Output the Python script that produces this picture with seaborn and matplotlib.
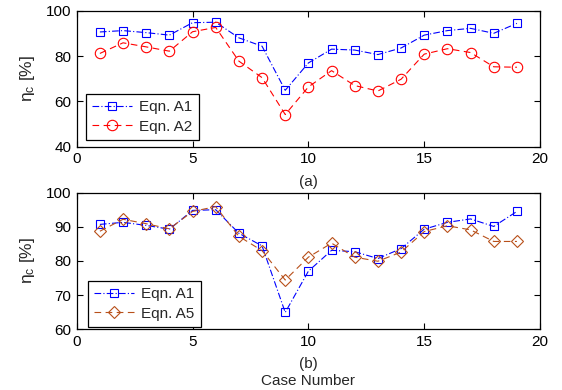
import matplotlib
matplotlib.use("Agg")
import matplotlib.pyplot as plt
import seaborn as sns
import pandas as pd
import numpy as np

cases = list(range(1, 20))
eqn_a1 = [90.7, 91.3, 90.4, 89.3, 94.8, 95.0, 88.1, 84.4, 64.9, 77.0,
          83.1, 82.7, 80.7, 83.6, 89.3, 91.3, 92.3, 90.1, 94.5]
eqn_a2 = [81.2, 85.9, 84.1, 82.2, 90.8, 92.7, 77.8, 70.5, 54.2, 66.4,
          73.6, 67.0, 64.6, 69.8, 80.9, 83.3, 81.6, 75.3, 75.1]
eqn_a5 = [88.7, 92.2, 90.9, 89.4, 94.5, 95.9, 87.2, 83.0, 74.4, 81.1,
          85.2, 81.1, 79.9, 82.6, 88.6, 90.3, 89.1, 85.7, 85.7]

sns.set_style("ticks")
plt.rcParams['font.family'] = ['Liberation Sans', 'DejaVu Sans']
plt.rcParams['font.size'] = 10
plt.rcParams['mathtext.fontset'] = 'custom'
plt.rcParams['mathtext.rm'] = 'Liberation Sans'
plt.rcParams['mathtext.it'] = 'Liberation Sans'

fig = plt.figure(figsize=(5.62, 3.9), dpi=100)
ax1 = fig.add_axes([0.1365, 0.624, 0.8245, 0.348])
ax2 = fig.add_axes([0.1365, 0.156, 0.8245, 0.350])

df_top = pd.DataFrame({'case': cases * 2,
                       'eta': eqn_a1 + eqn_a2,
                       'series': ['Eqn. A1'] * 19 + ['Eqn. A2'] * 19})
df_bot = pd.DataFrame({'case': cases * 2,
                       'eta': eqn_a1 + eqn_a5,
                       'series': ['Eqn. A1'] * 19 + ['Eqn. A5'] * 19})

blue = '#0000ff'
red = '#ff0000'
brown = '#b8501a'

def draw(ax, df, names, colors, styles, markers, msizes):
    for name, c, ls, mk, ms in zip(names, colors, styles, markers, msizes):
        sub = df[df['series'] == name]
        sns.lineplot(data=sub, x='case', y='eta', ax=ax, color=c, linestyle=ls,
                     marker=mk, markersize=ms, markerfacecolor='none',
                     markeredgecolor=c, markeredgewidth=0.8, linewidth=0.8,
                     label=name, estimator=None)

draw(ax1, df_top, ['Eqn. A1', 'Eqn. A2'], [blue, red],
     [(0, (6, 2, 1, 2)), (0, (6, 4))], ['s', 'o'], [5.5, 7.5])
draw(ax2, df_bot, ['Eqn. A1', 'Eqn. A5'], [blue, brown],
     [(0, (6, 2, 1, 2)), (0, (6, 4))], ['s', 'D'], [5.5, 6])

for ax, ylim, yt, anc in [(ax1, (40, 100), [40, 60, 80, 100], (0.02, 0.05)),
                          (ax2, (60, 100), [60, 70, 80, 90, 100], (0.024, 0.017))]:
    ax.set_xlim(0, 20)
    ax.set_ylim(*ylim)
    ax.set_xticks([0, 5, 10, 15, 20])
    ax.set_yticks(yt)
    ax.tick_params(direction='in', top=True, right=True, length=4, width=0.8,
                   labelsize=11, colors='black', pad=4)
    for s in ax.spines.values():
        s.set_linewidth(0.9)
        s.set_color('black')
    ax.set_ylabel(r'$\eta_c$ [%]', fontsize=12.5, labelpad=6)
    ax.legend(loc='lower left', frameon=True, fancybox=False, edgecolor='black',
              fontsize=11, handlelength=2.6, borderpad=0.4, labelspacing=0.35,
              framealpha=1, bbox_to_anchor=anc, borderaxespad=0,
              handletextpad=0.5)
    ax.legend_.get_frame().set_linewidth(0.9)

ax1.set_xlabel('(a)', fontsize=11, labelpad=6)
ax2.set_xlabel('(b)\nCase Number', fontsize=11, labelpad=6, linespacing=1.25)

fig.savefig('out.png', dpi=100)
